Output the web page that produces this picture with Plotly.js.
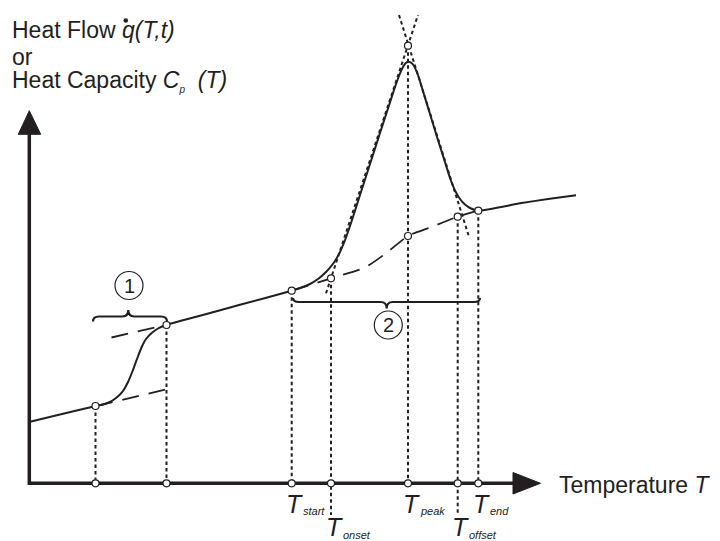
<!DOCTYPE html>
<html><head><meta charset="utf-8">
<script src="https://cdn.plot.ly/plotly-3.0.1.min.js"></script>
<style>html,body{margin:0;padding:0;background:#fff;}#chart{width:720px;height:541px;}</style>
</head><body><div id="chart"></div>
<script>
// ---- schematic values (pixel-like units, y downward) ----
const curveX = [30, 60, 96, 104, 110, 116, 120, 123, 128, 133, 137, 141.7, 146, 151.7, 158, 166, 200, 240, 291.7, 300, 310, 318, 326, 334, 340, 346, 352, 360, 370, 380, 388, 394, 399, 403, 405.5, 408, 410.5, 413, 418, 424, 430, 437, 444, 450, 455, 460, 465, 471, 478.3, 520, 548, 576];
const curveY = [421.7, 414.5, 406, 404.2, 402, 398, 394.5, 391, 382, 370, 359, 347, 339, 333, 328.5, 325, 315.7, 304.8, 290.7, 288, 284, 279, 272, 262.5, 252, 237.5, 220, 195, 164, 133, 108.5, 90, 76, 67, 63.3, 61.7, 62.4, 64.5, 75, 94.5, 114, 137, 159, 178, 190.5, 199, 204.5, 208.5, 210.7, 203.3, 199.0, 195.3];

const glassLowX = [96, 174];
const glassLowY = [406, 387.5];
const glassHighX = [111.5, 166];
const glassHighY = [337.5, 325];

const peakBaseX = [291.7, 331, 365, 385, 408, 430, 457.7, 478.3];
const peakBaseY = [290.7, 278.3, 267.5, 254, 236, 227.5, 216.7, 210.7];

const tanLeftX = [326, 418];
const tanLeftY = [293.3, 15];
const tanRightX = [399, 469.5];
const tanRightY = [15, 238.3];

const vertX = [95.5, 166.5, 291.7, 331, 408, 457.7, 478.3];
const vertTop = [406, 325, 290.7, 278.3, 45.7, 216.7, 210.7];
const vertBottom = [483.3, 483.3, 483.3, 515, 483.3, 515, 483.3];

const markX = [95.5, 166.5, 291.7, 331, 408, 408, 457.7, 478.3];
const markY = [406, 325, 290.7, 278.3, 45.7, 236, 216.7, 210.7];
const axisY0 = 483.3;
const axisX0 = 29.3;
const axisXEnd = 515;
const axisYEnd = 134;

const yArrowX = [18.3, 40.7, 29.3];
const yArrowY = [134.3, 134.3, 110.7];
const xArrowX = [513, 513, 540.5];
const xArrowY = [472.5, 494, 483.3];

const braceX0 = [93, 293];
const braceX1 = [167, 480];
const braceXm = [128.3, 386.7];
const braceY = [316.5, 302];
const braceTip = [-6.5, 6.5];
const braceEnd = [5, -4];

const circleNumX = [129, 388.3];
const circleNumY = [285.5, 325];
const circleNumText = ['1', '2'];

const headLines = ['Heat Flow <i>q(T,t)</i>', 'or', 'Heat Capacity <i>C<sub><span style="font-size:10px">p</span></sub>&nbsp; (T)</i>'];
const headBase = [38.3, 65, 88.3];
const dotQX = [125.8];
const dotQY = [20.5];

const tSubs = ['start', 'onset', 'peak', 'offset', 'end'];
const tLeft = [286, 326, 403, 452, 473];
const tBase = [513, 535.5, 513, 535.5, 513];
const tSubBase = [515, 538.5, 515, 538.5, 515];

const axisLabel = 'Temperature <i>T</i>';

// ---- drawing ----
const ink = '#231f20';
const FONT = 'Liberation Sans, Arial, sans-serif';

function segs(xs0, ys0, ys1) {
  const x = [], y = [];
  for (let i = 0; i < xs0.length; i++) { x.push(xs0[i], xs0[i], null); y.push(ys0[i], ys1[i], null); }
  return {x, y};
}
const v = segs(vertX, vertTop, vertBottom);

const dotted = {color: ink, width: 2, dash: '3.5px,3px'};
const dashed = {color: ink, width: 1.8, dash: '17px,10px'};

const traces = [
  {x: v.x, y: v.y, mode: 'lines', line: dotted, connectgaps: false},
  {x: tanLeftX, y: tanLeftY, mode: 'lines', line: dotted},
  {x: tanRightX, y: tanRightY, mode: 'lines', line: dotted},
  {x: glassLowX, y: glassLowY, mode: 'lines', line: dashed},
  {x: glassHighX, y: glassHighY, mode: 'lines', line: dashed},
  {x: peakBaseX, y: peakBaseY, mode: 'lines', line: Object.assign({shape: 'spline', smoothing: 0.6}, dashed)},
  {x: curveX, y: curveY, mode: 'lines', line: {color: ink, width: 2, shape: 'spline', smoothing: 0.5}},
  {x: [axisX0, axisX0, axisXEnd], y: [axisYEnd, axisY0, axisY0], mode: 'lines', line: {color: ink, width: 3.5}},
  {x: markX.concat(vertX), y: markY.concat(vertX.map(() => axisY0)), mode: 'markers',
   marker: {symbol: 'circle', size: 7, color: '#ffffff', line: {color: ink, width: 1.2}}},
  {x: dotQX, y: dotQY, mode: 'markers', marker: {symbol: 'circle', size: 4.5, color: ink}}
];

function tri(xs, ys) {
  return 'M' + xs.map((x, i) => x + ',' + ys[i]).join(' L') + ' Z';
}
function brace(i) {
  const x0 = braceX0[i], x1 = braceX1[i], xm = braceXm[i], y = braceY[i], t = braceTip[i], e = braceEnd[i], r = 6;
  return `M${x0},${y + e} Q${x0},${y} ${x0 + r},${y} L${xm - r},${y} Q${xm},${y} ${xm},${y + t} Q${xm},${y} ${xm + r},${y} L${x1 - r},${y} Q${x1},${y} ${x1},${y + e}`;
}

const shapes = [
  {type: 'path', xref: 'x', yref: 'y', path: tri(yArrowX, yArrowY), fillcolor: ink, line: {color: ink, width: 1}},
  {type: 'path', xref: 'x', yref: 'y', path: tri(xArrowX, xArrowY), fillcolor: ink, line: {color: ink, width: 1}},
  {type: 'path', xref: 'x', yref: 'y', path: brace(0), line: {color: ink, width: 2.2}},
  {type: 'path', xref: 'x', yref: 'y', path: brace(1), line: {color: ink, width: 2.2}}
];
circleNumX.forEach((cx, i) => shapes.push({type: 'circle', xref: 'x', yref: 'y',
  x0: cx - 14, x1: cx + 14, y0: circleNumY[i] - 14, y1: circleNumY[i] + 14, line: {color: ink, width: 1.2}}));

const annotations = [];
function addText(text, x, yTop, size, anchorX) {
  annotations.push({text: text, x: x, y: yTop, xref: 'x', yref: 'y', xanchor: anchorX || 'left', yanchor: 'top',
    showarrow: false, borderpad: 0, borderwidth: 0, font: {family: FONT, size: size, color: ink}});
}
headLines.forEach((t, i) => addText(t, 11.5, headBase[i] - 0.905 * 23, 23));
tSubs.forEach((s, i) => {
  addText('<i>T</i>', tLeft[i], tBase[i] - 0.905 * 25, 25);
  addText('<i>' + s + '</i>', tLeft[i] + 17, tSubBase[i] - 0.905 * 11, 11);
});
addText(axisLabel, 559, 493.3 - 0.905 * 23, 23);
circleNumText.forEach((t, i) => annotations.push({text: t, x: circleNumX[i], y: circleNumY[i], xref: 'x', yref: 'y',
  xanchor: 'center', yanchor: 'middle', showarrow: false, borderpad: 0, borderwidth: 0,
  font: {family: FONT, size: 20, color: ink}}));

const layout = {
  width: 720, height: 541, margin: {l: 0, r: 0, t: 0, b: 0},
  paper_bgcolor: '#ffffff', plot_bgcolor: '#ffffff', showlegend: false,
  xaxis: {range: [0, 720], visible: false, fixedrange: true},
  yaxis: {range: [541, 0], visible: false, fixedrange: true},
  shapes: shapes, annotations: annotations
};
Plotly.newPlot('chart', traces, layout, {staticPlot: true, displayModeBar: false});
</script>
</body></html>
